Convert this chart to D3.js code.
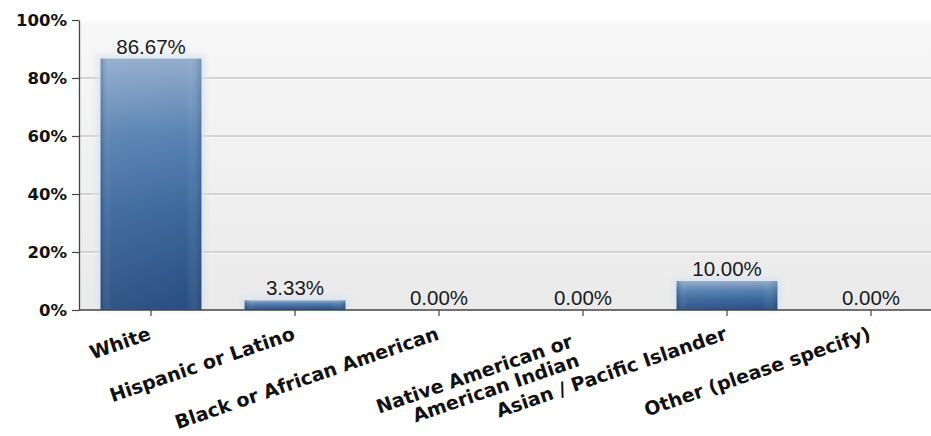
<!DOCTYPE html>
<html>
<head>
<meta charset="utf-8">
<script src="https://cdn.jsdelivr.net/npm/d3@7/dist/d3.min.js"></script>
<style>
  html, body { margin: 0; padding: 0; background: #fff; }
  svg { display: block; }
</style>
</head>
<body>
<svg id="chart" width="931" height="436"></svg>
<script>
// Survey responses: ethnicity breakdown (percent of respondents)
const categories = [
  "White",
  "Hispanic or Latino",
  "Black or African American",
  "Native American or\nAmerican Indian",
  "Asian / Pacific Islander",
  "Other (please specify)"
];
const values = [86.67, 3.33, 0.00, 0.00, 10.00, 0.00];
const yTicks = [0, 20, 40, 60, 80, 100];

const W = 931, H = 436;
const m = { left: 79, top: 20, bottom: 310 };

const svg = d3.select("#chart");
const defs = svg.append("defs");

// plot background: white at the top fading to light grey
const bg = defs.append("linearGradient").attr("id", "bgGrad")
  .attr("x1", 0).attr("y1", 0).attr("x2", 0).attr("y2", 1);
bg.append("stop").attr("offset", "0%").attr("stop-color", "#ffffff");
bg.append("stop").attr("offset", "3%").attr("stop-color", "#f7f7f7");
bg.append("stop").attr("offset", "100%").attr("stop-color", "#eaeaea");

// bar fill: pale steel blue on top, deep blue at the base
const bar = defs.append("linearGradient").attr("id", "barGrad")
  .attr("x1", 0).attr("y1", 0).attr("x2", 0).attr("y2", 1);
bar.append("stop").attr("offset", "0%").attr("stop-color", "#93adcc");
bar.append("stop").attr("offset", "30%").attr("stop-color", "#5a83b3");
bar.append("stop").attr("offset", "60%").attr("stop-color", "#3d699d");
bar.append("stop").attr("offset", "100%").attr("stop-color", "#2a4e80");

const barSide = defs.append("linearGradient").attr("id", "barSide")
  .attr("x1", 0).attr("y1", 0).attr("x2", 1).attr("y2", 0);
barSide.append("stop").attr("offset", "0%").attr("stop-color", "#1e3a66").attr("stop-opacity", 0.3);
barSide.append("stop").attr("offset", "10%").attr("stop-color", "#ffffff").attr("stop-opacity", 0.04);
barSide.append("stop").attr("offset", "85%").attr("stop-color", "#ffffff").attr("stop-opacity", 0);
barSide.append("stop").attr("offset", "100%").attr("stop-color", "#1e3a66").attr("stop-opacity", 0.25);

const glow = defs.append("filter").attr("id", "glow")
  .attr("x", "-20%").attr("y", "-20%").attr("width", "140%").attr("height", "140%");
glow.append("feGaussianBlur").attr("stdDeviation", 3);

const x = d3.scaleBand()
  .domain(d3.range(categories.length))
  .range([m.left, 943])
  .paddingInner(0.3)
  .paddingOuter(0.15);

const y = d3.scaleLinear().domain([0, 100]).range([m.bottom, m.top]);

// background
svg.append("rect")
  .attr("x", m.left).attr("y", y(100) - 3)
  .attr("width", W - m.left).attr("height", m.bottom - y(100) + 3)
  .attr("fill", "url(#bgGrad)");

// horizontal grid lines
const inner = yTicks.filter(d => d > 0 && d < 100);
const grid = svg.append("g");
grid.selectAll("line.g1")
  .data(inner)
  .join("line")
  .attr("class", "g1")
  .attr("x1", m.left).attr("x2", W)
  .attr("y1", d => y(d)).attr("y2", d => y(d))
  .attr("stroke", "#c9c9c9").attr("stroke-width", 1.3);
grid.selectAll("line.g2")
  .data(inner)
  .join("line")
  .attr("class", "g2")
  .attr("x1", m.left).attr("x2", W)
  .attr("y1", d => y(d) + 1.6).attr("y2", d => y(d) + 1.6)
  .attr("stroke", "#fafafa").attr("stroke-width", 1);

// soft halo behind each bar
svg.append("g").selectAll("rect")
  .data(values)
  .join("rect")
  .attr("x", (d, i) => x(i) - 4)
  .attr("width", x.bandwidth() + 8)
  .attr("y", d => y(d) - 4)
  .attr("height", d => m.bottom - y(d) + 4)
  .attr("fill", "#d6e3f2")
  .attr("opacity", d => d > 0 ? 0.8 : 0)
  .attr("filter", "url(#glow)");

// bars
const bars = svg.append("g");
bars.selectAll("rect.bar")
  .data(values)
  .join("rect")
  .attr("class", "bar")
  .attr("x", (d, i) => x(i))
  .attr("width", x.bandwidth())
  .attr("y", d => y(d))
  .attr("height", d => m.bottom - y(d))
  .attr("fill", "url(#barGrad)");
bars.selectAll("rect.side")
  .data(values)
  .join("rect")
  .attr("class", "side")
  .attr("x", (d, i) => x(i))
  .attr("width", x.bandwidth())
  .attr("y", d => y(d))
  .attr("height", d => m.bottom - y(d))
  .attr("fill", "url(#barSide)");

// value labels above bars
svg.append("g").selectAll("text")
  .data(values)
  .join("text")
  .attr("x", (d, i) => x(i) + x.bandwidth() / 2)
  .attr("y", d => y(d) - 5)
  .attr("text-anchor", "middle")
  .attr("font-family", "'Liberation Sans', Arial, sans-serif")
  .attr("font-size", 20.5)
  .attr("fill", "#1a1a1a")
  .text(d => d.toFixed(2) + "%");

// y axis
const yAxis = d3.axisLeft(y).tickValues(yTicks).tickSize(7).tickSizeOuter(0)
  .tickFormat(d => d + "%");
const gy = svg.append("g").attr("transform", `translate(${m.left},0)`).call(yAxis);
gy.select(".domain").attr("stroke", "#444").attr("stroke-width", 1.3);
gy.selectAll(".tick line").attr("stroke", "#444").attr("stroke-width", 1.2);
gy.selectAll(".tick text")
  .attr("x", -12)
  .attr("font-family", "'DejaVu Sans', Verdana, sans-serif")
  .attr("font-weight", "bold")
  .attr("font-size", 16.5)
  .attr("fill", "#111");

// x axis
const xAxis = d3.axisBottom(x).tickSize(6).tickSizeOuter(0).tickFormat("");
const gx = svg.append("g").attr("transform", `translate(0,${m.bottom})`).call(xAxis);
gx.select(".domain").attr("stroke", "#444").attr("stroke-width", 1.3)
  .attr("d", `M${m.left},0H${W}`);
gx.selectAll(".tick line").attr("stroke", "#444").attr("stroke-width", 1.2);

// slanted category labels
const labels = svg.append("g");
categories.forEach((c, i) => {
  const lines = c.split("\n");
  const cx = x(i) + x.bandwidth() / 2;
  const t = labels.append("text")
    .attr("transform", `translate(${cx + 1},${m.bottom + 29}) rotate(-19)`)
    .attr("text-anchor", "end")
    .attr("font-family", "'DejaVu Sans', Verdana, sans-serif")
    .attr("font-weight", "bold")
    .attr("font-size", 19)
    .attr("fill", "#111");
  lines.forEach((ln, k) => {
    t.append("tspan")
      .attr("x", lines.length > 1 ? -12 : 0)
      .attr("y", lines.length > 1 ? 4 + k * 20 : 0)
      .text(ln);
  });
});
</script>
</body>
</html>
